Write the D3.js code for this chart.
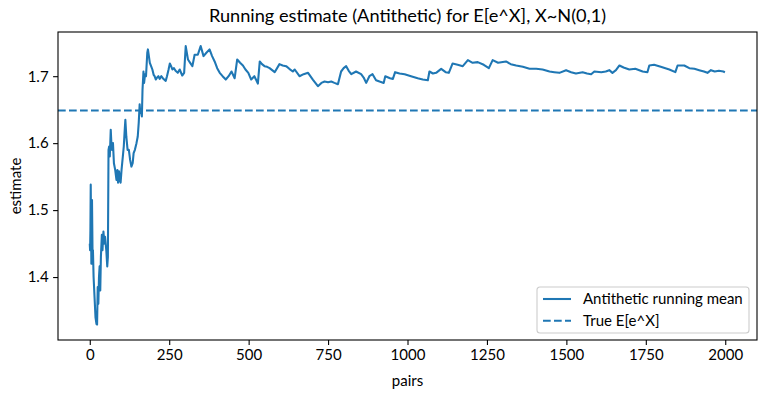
<!DOCTYPE html>
<html>
<head>
<meta charset="utf-8">
<script src="https://cdn.jsdelivr.net/npm/d3@7"></script>
<style>
  body { margin: 0; background: #fff; }
  text { font-family: Lato, "DejaVu Sans", sans-serif; fill: #000; }
</style>
</head>
<body>
<div id="chart"></div>
<script>
// running mean (pair index, estimate)
const pairs = [0, 1, 2, 3, 4, 5, 6, 7, 8, 9, 10, 12, 15, 18, 21, 23, 25, 27, 29, 31,
  33, 35, 38, 40, 43, 46, 48, 52, 55, 57, 59, 61, 63, 66, 68, 70, 73, 76, 80, 84,
  87, 89, 92, 95, 97, 100, 104, 107, 110, 112, 115, 119, 123, 127, 131, 135, 138, 142, 147, 151,
  154, 157, 159, 161, 164, 166, 169, 171, 174, 177, 181, 183, 186, 189, 193, 197, 201, 204, 208, 212,
  216, 220, 225, 230, 234, 239, 243, 248, 252, 256, 260, 265, 270, 277, 283, 291, 297, 302, 309, 316,
  323, 330, 340, 349, 358, 367, 377, 385, 393, 401, 409, 418, 428, 437, 446, 456, 464, 473, 482, 490,
  499, 508, 518, 529, 535, 542, 550, 558, 566, 574, 582, 597, 607, 618, 628, 639, 645, 660, 673, 687,
  702, 718, 729, 739, 750, 760, 770, 781, 791, 799, 807, 815, 823, 838, 854, 862, 870, 880, 890, 901,
  912, 925, 930, 945, 954, 961, 975, 991, 1011, 1032, 1048, 1064, 1069, 1080, 1090, 1106, 1120, 1130, 1142, 1158,
  1174, 1190, 1205, 1221, 1240, 1256, 1268, 1285, 1310, 1325, 1342, 1363, 1384, 1405, 1425, 1447, 1462, 1478, 1499, 1515,
  1530, 1551, 1565, 1578, 1588, 1610, 1624, 1635, 1645, 1656, 1667, 1680, 1698, 1717, 1740, 1755, 1761, 1776, 1797, 1824,
  1843, 1850, 1871, 1887, 1903, 1918, 1933, 1944, 1955, 1967, 1980, 1994, 1999];
const estimates = [1.45, 1.44, 1.47, 1.538, 1.48, 1.42, 1.46, 1.515, 1.47, 1.42, 1.44, 1.40, 1.37, 1.34, 1.33, 1.329, 1.385, 1.36, 1.40, 1.416,
  1.38, 1.43, 1.463, 1.44, 1.468, 1.45, 1.46, 1.44, 1.416, 1.43, 1.59, 1.595, 1.58, 1.62, 1.60, 1.59, 1.60, 1.57, 1.56, 1.545,
  1.56, 1.541, 1.558, 1.545, 1.541, 1.56, 1.58, 1.595, 1.62, 1.635, 1.61, 1.59, 1.59, 1.575, 1.565, 1.57, 1.585, 1.59, 1.60, 1.61,
  1.63, 1.658, 1.645, 1.65, 1.64, 1.68, 1.707, 1.69, 1.703, 1.70, 1.735, 1.74, 1.73, 1.72, 1.715, 1.71, 1.702, 1.70, 1.695, 1.698,
  1.70, 1.696, 1.70, 1.697, 1.695, 1.693, 1.70, 1.71, 1.719, 1.715, 1.71, 1.712, 1.708, 1.705, 1.71, 1.701, 1.705, 1.745, 1.725, 1.72,
  1.715, 1.732, 1.732, 1.745, 1.73, 1.735, 1.74, 1.73, 1.722, 1.712, 1.705, 1.70, 1.695, 1.70, 1.707, 1.697, 1.725, 1.72, 1.716, 1.71,
  1.705, 1.695, 1.70, 1.689, 1.722, 1.718, 1.715, 1.714, 1.712, 1.709, 1.706, 1.718, 1.716, 1.715, 1.711, 1.707, 1.71, 1.70, 1.703, 1.705,
  1.695, 1.685, 1.69, 1.692, 1.691, 1.692, 1.69, 1.688, 1.707, 1.712, 1.715, 1.708, 1.703, 1.707, 1.703, 1.698, 1.69, 1.70, 1.703, 1.694,
  1.692, 1.69, 1.70, 1.697, 1.696, 1.706, 1.704, 1.703, 1.70, 1.697, 1.695, 1.694, 1.707, 1.704, 1.705, 1.711, 1.706, 1.705, 1.719, 1.717,
  1.715, 1.724, 1.72, 1.721, 1.717, 1.712, 1.724, 1.72, 1.722, 1.718, 1.716, 1.714, 1.711, 1.711, 1.71, 1.707, 1.706, 1.705, 1.709, 1.706,
  1.704, 1.706, 1.704, 1.703, 1.707, 1.706, 1.707, 1.709, 1.705, 1.709, 1.716, 1.713, 1.71, 1.711, 1.707, 1.706, 1.716, 1.717, 1.714, 1.71,
  1.706, 1.716, 1.716, 1.712, 1.711, 1.709, 1.707, 1.705, 1.709, 1.707, 1.708, 1.707, 1.706];
const trueValue = 1.6487;
const xTicks = [0, 250, 500, 750, 1000, 1250, 1500, 1750, 2000];
const yTicks = [1.4, 1.5, 1.6, 1.7];
const legendLabels = ['Antithetic running mean', 'True E[e^X]'];

const W = 765, H = 393;
const plotL = 58, plotR = 757, plotT = 32, plotB = 340;
const blue = '#1f77b4';
const fs = 15;

const svg = d3.select('#chart').append('svg')
  .attr('width', W)
  .attr('height', H);

const x = d3.scaleLinear().domain([-100, 2099.95]).range([plotL, plotR]);
const y = d3.scaleLinear().domain([1.306, 1.766]).range([plotB, plotT]);

// axes
const xAxis = svg.append('g')
  .attr('transform', `translate(0,${plotB})`)
  .call(d3.axisBottom(x).tickValues(xTicks).tickSize(4.9).tickPadding(4).tickFormat(d3.format('d')));
const yAxis = svg.append('g')
  .attr('transform', `translate(${plotL},0)`)
  .call(d3.axisLeft(y).tickValues(yTicks).tickSize(4.9).tickPadding(4.5).tickFormat(d3.format('.1f')));

[xAxis, yAxis].forEach(g => {
  g.select('.domain').remove();
  g.selectAll('line').attr('stroke', '#000').attr('stroke-width', 1.1);
  g.selectAll('text').attr('font-size', fs).attr('font-family', 'Lato');
});

// lines
const line = d3.line()
  .x((d, i) => x(pairs[i]))
  .y(d => y(d));

svg.append('clipPath').attr('id', 'clip')
  .append('rect').attr('x', plotL).attr('y', plotT).attr('width', plotR - plotL).attr('height', plotB - plotT);

svg.append('path')
  .datum(estimates)
  .attr('clip-path', 'url(#clip)')
  .attr('d', line)
  .attr('fill', 'none')
  .attr('stroke', blue)
  .attr('stroke-width', 2.08)
  .attr('stroke-linejoin', 'round');

svg.append('line')
  .attr('x1', plotL).attr('x2', plotR)
  .attr('y1', y(trueValue)).attr('y2', y(trueValue))
  .attr('stroke', blue)
  .attr('stroke-width', 2.08)
  .attr('stroke-dasharray', '7.7,3.3');

// frame
svg.append('rect')
  .attr('x', plotL).attr('y', plotT)
  .attr('width', plotR - plotL).attr('height', plotB - plotT)
  .attr('fill', 'none')
  .attr('stroke', '#000')
  .attr('stroke-width', 1.1);

// legend
const lg = svg.append('g').attr('transform', 'translate(537,287)');
lg.append('rect')
  .attr('width', 212).attr('height', 46).attr('rx', 3)
  .attr('fill', '#fff').attr('fill-opacity', 0.8)
  .attr('stroke', '#ccc').attr('stroke-width', 1.1);
legendLabels.forEach((label, i) => {
  const ly = 12 + i * 21.7;
  lg.append('line')
    .attr('x1', 6).attr('x2', 34).attr('y1', ly).attr('y2', ly)
    .attr('stroke', blue).attr('stroke-width', 2.08)
    .attr('stroke-dasharray', i === 1 ? '7.7,3.3' : null);
  lg.append('text')
    .attr('x', 46).attr('y', ly).attr('dy', '0.35em')
    .attr('font-size', fs)
    .text(label);
});

// title and labels
svg.append('text')
  .attr('x', (plotL + plotR) / 2).attr('y', 22)
  .attr('text-anchor', 'middle')
  .attr('font-size', 18.2)
  .text('Running estimate (Antithetic) for E[e^X], X~N(0,1)');

svg.append('text')
  .attr('x', (plotL + plotR) / 2).attr('y', 386)
  .attr('text-anchor', 'middle')
  .attr('font-size', fs)
  .text('pairs');

svg.append('text')
  .attr('transform', `translate(21,${(plotT + plotB) / 2}) rotate(-90)`)
  .attr('text-anchor', 'middle')
  .attr('font-size', fs)
  .text('estimate');
</script>
</body>
</html>
